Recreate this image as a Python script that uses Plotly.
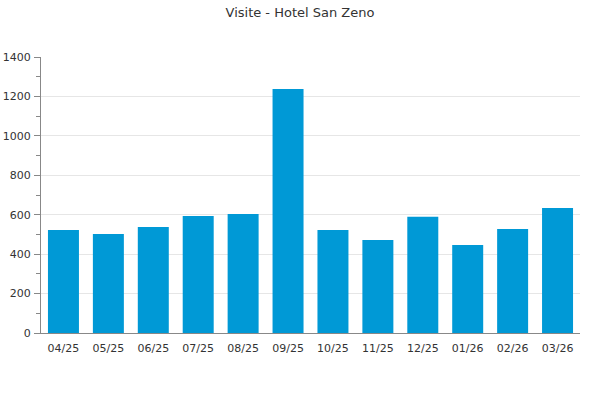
import plotly.graph_objects as go

months = ["04/25", "05/25", "06/25", "07/25", "08/25", "09/25",
          "10/25", "11/25", "12/25", "01/26", "02/26", "03/26"]
visits = [522, 502, 538, 593, 604, 1238, 522, 472, 590, 446, 527, 634]
y_ticks = [0, 200, 400, 600, 800, 1000, 1200, 1400]

fig = go.Figure(go.Bar(x=months, y=visits, marker_color="#0099d6",
                       marker_line_width=0))
fig.update_layout(
    width=600, height=400,
    margin=dict(l=41, r=20, t=57, b=67),
    paper_bgcolor="white", plot_bgcolor="white",
    font=dict(family="DejaVu Sans", size=11, color="#333333"),
    title=dict(text="Visite - Hotel San Zeno", x=0.5, xanchor="center",
               y=0.98, yanchor="top", font=dict(size=13, color="#333333")),
    bargap=0.31,
    showlegend=False,
)
fig.update_yaxes(range=[0, 1400], tickvals=y_ticks, showgrid=True,
                 gridcolor="#e6e6e6", gridwidth=1, automargin=False,
                 showline=True, linecolor="#888888", linewidth=1,
                 ticks="outside", ticklen=6, tickcolor="#888888",
                 ticklabelstandoff=1,
                 minor=dict(dtick=100, ticks="outside", ticklen=4,
                            tickcolor="#888888", showgrid=False),
                 zeroline=False, fixedrange=True)
fig.update_xaxes(showline=True, linecolor="#888888", linewidth=1,
                 automargin=False, ticklabelstandoff=5,
                 ticks="", showgrid=False, fixedrange=True)
fig.write_html("out.html", config={"displayModeBar": False},
               post_script="document.body.style.margin='0';")
